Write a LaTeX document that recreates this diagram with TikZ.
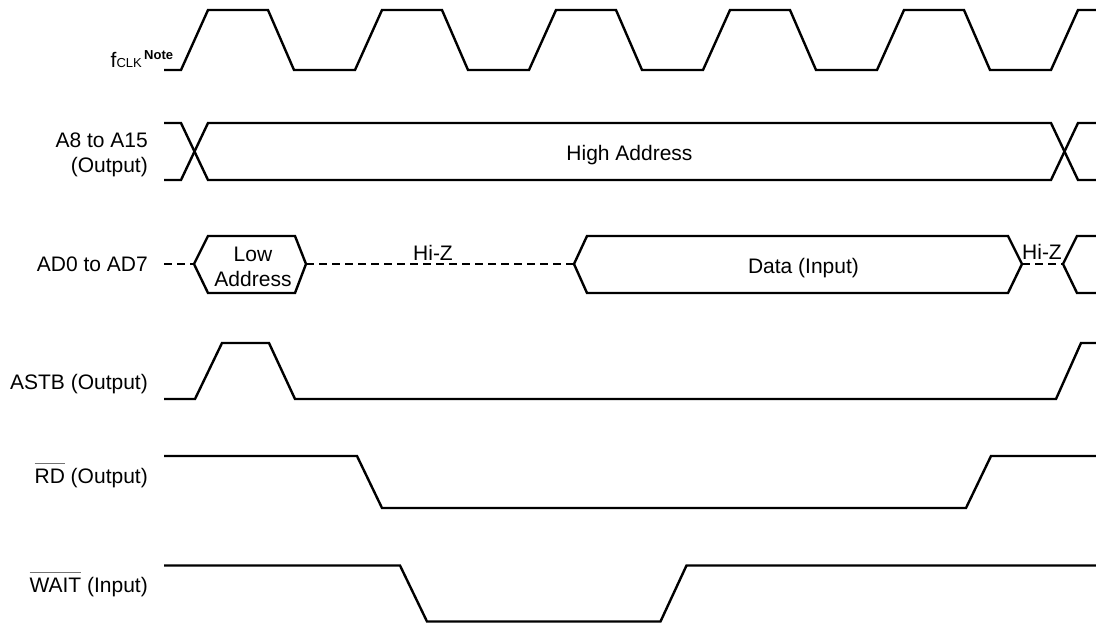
\documentclass[tikz,border=0pt]{standalone}
\usepackage{fontspec}
\setmainfont{Liberation Sans}
\newcommand\barred[1]{\setbox0\hbox{#1}\rlap{\color{black!55}\raisebox{\dimexpr\ht0+4.5pt\relax}{\rule{\wd0}{0.9pt}}}\box0\relax}
\tikzset{
  wave/.style={line width=2.4pt},
  hiz/.style={line width=2.4pt, dash pattern=on 8pt off 5pt},
  lbl/.style={inner sep=0pt, font=\fontsize{21}{24}\selectfont},
  small/.style={inner sep=0pt, font=\fontsize{13}{15}\selectfont},
}
\begin{document}
\begin{tikzpicture}[x=1pt,y=-1pt]
\useasboundingbox (0,0) rectangle (1096,625);

% ---------- labels ----------
\node[lbl, anchor=base east] (lclk) at (142,67) {f{\fontsize{13}{15}\selectfont CLK}};
\node[small, anchor=base west, font=\fontsize{13}{15}\selectfont\bfseries] (lnote) at (144,59) {Note};
\node[lbl, anchor=base east] (laddr1) at (148,147) {A8 to A15};
\node[lbl, anchor=base east] (laddr2) at (148,172) {(Output)};
\node[lbl, anchor=base east] (lad) at (148,271.5) {AD0 to AD7};
\node[lbl, anchor=base east] (lastb) at (148,389) {ASTB (Output)};
\node[lbl, anchor=base east] (lrd) at (148,483) {\barred{RD} (Output)};
\node[lbl, anchor=base east] (lwait) at (148,592) {\barred{WAIT} (Input)};

% ---------- clock ----------
\draw[wave] (164,70) -- (181,70) -- (208,10) -- (268,10) -- (294,70)
  -- (355,70) -- (382,10) -- (442,10) -- (468,70)
  -- (529,70) -- (556,10) -- (616,10) -- (642,70)
  -- (703,70) -- (730,10) -- (790,10) -- (816,70)
  -- (877,70) -- (904,10) -- (964,10) -- (990,70)
  -- (1051,70) -- (1078,10) -- (1096,10);

% ---------- A8 to A15 ----------
\draw[wave] (164,123) -- (181,123) -- (208,180) -- (1051,180) -- (1078,123) -- (1096,123);
\draw[wave] (164,180) -- (181,180) -- (208,123) -- (1051,123) -- (1078,180) -- (1096,180);
\node[lbl, anchor=base] (thigh) at (629.5,160.5) {High Address};

% ---------- AD0 to AD7 ----------
\draw[hiz] (164,264) -- (194,264);
\draw[wave] (194,264) -- (208,236) -- (295,236) -- (306,264) -- (295,293) -- (208,293) -- cycle;
\node[lbl, anchor=base] (tlow1) at (253,261) {Low};
\node[lbl, anchor=base] (tlow2) at (253,286) {Address};
\draw[hiz] (306,264) -- (574,264);
\node[lbl, anchor=base] (thiz1) at (433,260) {Hi-Z};
\draw[wave] (574,264) -- (587,236) -- (1008,236) -- (1022,264) -- (1008,293) -- (587,293) -- cycle;
\node[lbl, anchor=base] (tdata) at (803.5,273.5) {Data (Input)};
\draw[hiz] (1022,264) -- (1063,264);
\node[lbl, anchor=base] (thiz2) at (1042,259) {Hi-Z};
\draw[wave] (1096,236) -- (1077,236) -- (1063,264) -- (1077,293) -- (1096,293);

% ---------- ASTB ----------
\draw[wave] (164,399) -- (195,399) -- (222,343) -- (269,343) -- (295,399) -- (1056,399) -- (1081,343) -- (1096,343);

% ---------- RD ----------
\draw[wave] (164,456) -- (357,456) -- (382,508) -- (966,508) -- (991,456) -- (1096,456);

% ---------- WAIT ----------
\draw[wave] (164,565.5) -- (400,565.5) -- (427,621.5) -- (660.5,621.5) -- (686.5,565.5) -- (1096,565.5);
\end{tikzpicture}
\end{document}
